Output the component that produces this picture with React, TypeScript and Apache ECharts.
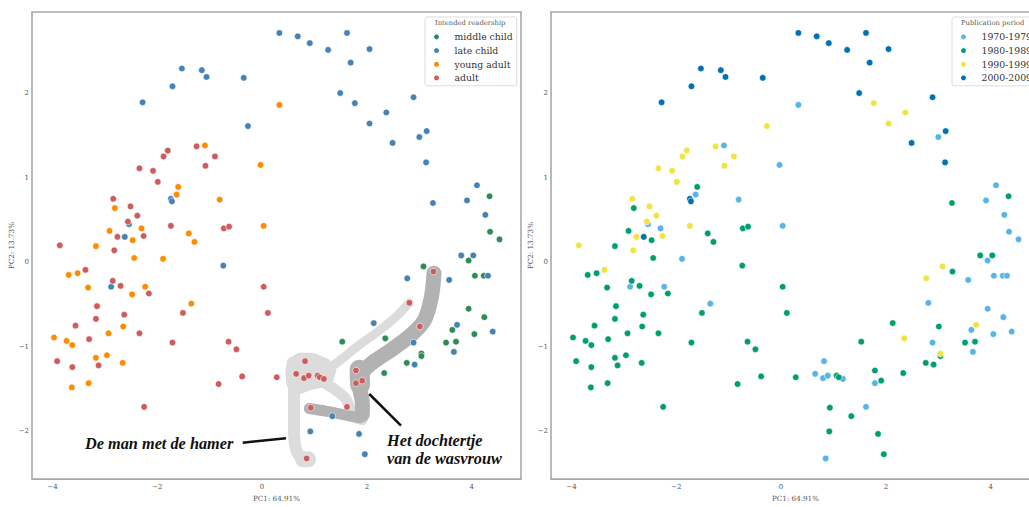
import React, { useEffect, useRef } from "react";
import * as echarts from "echarts";

// Category levels and their colours
const READERSHIP_LEVELS = ["middle child", "late child", "young adult", "adult"];
const READERSHIP_COLORS = ["#2e8b57", "#4682b4", "#ff8c00", "#cd5c5c"];
const PERIOD_LEVELS = ["1970-1979", "1980-1989", "1990-1999", "2000-2009"];
const PERIOD_COLORS = ["#56b4e9", "#009e73", "#f0e442", "#0072b2"];

// Principal component scores, one entry per book
const PC1 = [
  0.33, 0.68, 0.91, 1.26, 1.62, 2.05, 1.69, -1.53, -1.15, -1.06, -0.35, -1.71, -2.28, -0.27, 1.49, 1.77,
  2.37, 2.05, 2.89, 3.14, 3.0, 2.49, 3.13, 4.1, 3.91, 3.26, 4.26, -1.74, -1.72, -2.54, -2.62, 4.34,
  4.35, 4.53, 0.33, -1.09, -0.03, -1.6, -1.63, -0.81, -2.81, 0.03, -2.3, -2.91, -1.4, -2.47, -1.29, -3.17,
  -1.25, -1.8, -1.88, -0.9, -1.08, -2.34, -2.08, -1.99, -2.84, -2.51, -2.38, -2.56, -1.74, -0.73, -0.63, -2.26,
  -2.76, -3.86, -2.82, -2.44, -1.89, -3.69, -3.52, -3.32, -2.23, -2.48, -1.35, -3.97, -3.73, -3.62, -2.93, -2.65,
  -3.17, -2.96, -2.66, -3.63, -3.31, -3.37, -2.85, -2.7, -2.16, -3.15, -2.63, -3.17, -3.56, -2.34, -3.3, -3.91,
  -3.12, -3.62, -1.71, -1.51, 0.03, 0.11, -0.64, -0.49, -0.38, -0.83, 0.28, -2.25, -0.74, -2.88, 0.82, 0.65,
  0.8, 0.89, 1.06, 1.1, 1.18, 0.93, 1.62, 0.85, 1.79, 1.79, 1.91, 2.81, 3.01, 3.27, 3.8, 3.94,
  4.03, 3.08, 2.77, 3.57, 4.06, 4.23, 4.31, 3.94, 4.24, 4.4, 3.72, 3.63, 4.05, 3.51, 3.7, 3.66,
  2.89, 3.04, 3.04, 2.76, 2.91, 2.35, 2.13, 2.33, 1.53, 1.34, 0.92, 1.85, 1.96,
];
const PC2 = [
  2.71, 2.67, 2.59, 2.51, 2.71, 2.52, 2.36, 2.29, 2.27, 2.19, 2.18, 2.08, 1.89, 1.61, 2.0, 1.88,
  1.77, 1.64, 1.95, 1.55, 1.48, 1.41, 1.18, 0.91, 0.73, 0.7, 0.56, 0.75, 0.72, 0.45, 0.3, 0.78,
  0.36, 0.27, 1.86, 1.38, 1.15, 0.89, 0.8, 0.74, 0.64, 0.43, 0.4, 0.37, 0.34, 0.26, 0.24, 0.19,
  1.37, 1.32, 1.25, 1.25, 1.14, 1.11, 1.08, 0.95, 0.75, 0.66, 0.55, 0.48, 0.43, 0.4, 0.42, 0.31,
  0.3, 0.2, 0.14, 0.05, 0.04, -0.15, -0.13, -0.3, -0.29, -0.38, -0.49, -0.89, -0.93, -0.98, -0.84, -0.76,
  -1.13, -1.1, -1.19, -1.48, -1.43, -0.09, -0.22, -0.28, -0.37, -0.52, -0.62, -0.67, -0.75, -0.84, -0.91, -1.17,
  -1.22, -1.24, -0.95, -0.6, -0.29, -0.6, -0.94, -1.03, -1.35, -1.44, -1.36, -1.71, -0.04, -0.29, -1.17, -1.32,
  -1.37, -1.34, -1.34, -1.36, -1.38, -1.72, -1.71, -2.32, -1.28, -1.43, -1.4, -0.48, -0.76, -0.11, 0.08, 0.02,
  0.08, -0.05, -0.19, -0.21, -0.16, -0.16, -0.16, -0.55, -0.65, -0.82, -0.74, -0.8, -0.85, -0.95, -0.94, -1.06,
  -0.95, -1.08, -1.11, -1.19, -1.21, -0.9, -0.72, -1.31, -0.94, -1.82, -2.0, -2.03, -2.27,
];
// Index into READERSHIP_LEVELS
const READERSHIP = [
  1, 1, 1, 1, 1, 1, 1, 1, 1, 1, 1, 1, 1, 1, 1, 1,
  1, 1, 1, 1, 1, 1, 1, 1, 1, 1, 1, 1, 1, 1, 1, 0,
  0, 0, 2, 2, 2, 2, 2, 2, 2, 2, 2, 2, 2, 2, 2, 2,
  3, 3, 3, 3, 3, 3, 3, 3, 3, 3, 3, 3, 3, 3, 3, 3,
  3, 3, 3, 2, 2, 2, 2, 2, 2, 2, 2, 2, 2, 2, 2, 2,
  2, 2, 2, 2, 2, 3, 3, 3, 3, 3, 3, 3, 3, 3, 3, 3,
  3, 3, 3, 3, 3, 3, 3, 3, 3, 3, 3, 3, 1, 1, 3, 3,
  3, 3, 3, 3, 3, 3, 3, 3, 3, 3, 3, 3, 3, 3, 1, 0,
  1, 0, 1, 1, 0, 0, 1, 0, 0, 1, 1, 0, 0, 0, 0, 1,
  1, 0, 0, 0, 1, 0, 1, 0, 0, 1, 1, 1, 1,
];
// Index into PERIOD_LEVELS
const PERIOD = [
  3, 3, 3, 3, 3, 3, 3, 3, 3, 3, 3, 3, 3, 2, 3, 2,
  2, 2, 3, 3, 0, 3, 3, 0, 0, 1, 0, 3, 3, 0, 3, 1,
  0, 0, 0, 0, 0, 1, 0, 0, 1, 0, 0, 1, 1, 1, 1, 1,
  2, 2, 2, 2, 2, 2, 2, 2, 2, 2, 2, 2, 2, 1, 1, 2,
  2, 2, 2, 1, 0, 1, 1, 1, 0, 1, 0, 1, 1, 1, 1, 1,
  1, 1, 1, 1, 1, 2, 1, 1, 1, 1, 1, 1, 1, 1, 1, 1,
  1, 1, 1, 1, 1, 1, 1, 1, 1, 1, 1, 1, 1, 0, 0, 0,
  0, 0, 1, 1, 0, 1, 0, 0, 1, 0, 1, 0, 1, 1, 1, 0,
  1, 2, 2, 0, 0, 0, 0, 0, 0, 0, 2, 0, 0, 1, 1, 0,
  0, 2, 1, 1, 1, 2, 1, 1, 1, 1, 1, 1, 1,
];

const X_TICKS = [-4, -2, 0, 2, 4];
const Y_TICKS = [-2, -1, 0, 1, 2];
const X_RANGE = [-4.39, 4.94];
const Y_RANGE = [-2.564, 2.958];

// Highlighted book clusters, outlined in PC space
const HAMER_BLOB = [
  [0.56, -1.18], [0.73, -1.12], [0.99, -1.13], [1.22, -1.19], [1.33, -1.28], [1.28, -1.38], [1.14, -1.43],
  [0.9, -1.46], [0.74, -1.5], [0.62, -1.52], [0.55, -1.44], [0.53, -1.3],
];
const HAMER_STEM = [[0.61, -1.4], [0.61, -1.8], [0.62, -2.12], [0.7, -2.28], [0.84, -2.33]];
const HAMER_FOOT = [[0.78, -2.33], [0.88, -2.33]];
const HAMER_ARM = [[1.27, -1.26], [1.53, -1.14], [1.85, -0.98], [2.23, -0.81], [2.51, -0.67], [2.69, -0.56], [2.81, -0.48]];
const HAMER_HOOK = [[1.15, -1.41], [1.4, -1.51], [1.59, -1.61], [1.67, -1.72], [1.75, -1.82], [1.91, -1.86]];
const WASVROUW_SPINE = [[3.28, -0.13], [3.23, -0.41], [3.1, -0.68], [2.86, -0.85], [2.48, -1.03], [2.1, -1.19], [1.9, -1.32], [1.86, -1.47], [1.91, -1.64], [1.91, -1.8]];
const WASVROUW_KNOT = [[1.86, -1.27], [1.87, -1.45]];
const WASVROUW_FOOT = [[0.9, -1.73], [1.21, -1.76], [1.53, -1.8], [1.86, -1.84]];

const LIGHT = "#dcdcdc";
const DARK = "#b2b2b2";
const ANNOTATION_SHAPES = [
  { points: HAMER_BLOB, fill: LIGHT, width: 9 },
  { points: HAMER_STEM, stroke: LIGHT, width: 12 },
  { points: HAMER_FOOT, stroke: LIGHT, width: 16 },
  { points: HAMER_ARM, stroke: LIGHT, width: 9 },
  { points: HAMER_HOOK, stroke: LIGHT, width: 11 },
  { points: WASVROUW_SPINE, stroke: DARK, width: 15 },
  { points: WASVROUW_KNOT, stroke: DARK, width: 20 },
  { points: WASVROUW_FOOT, stroke: DARK, width: 11 },
];

const SERIF = "DejaVu Serif";
const minus = (v: number) => (v < 0 ? "\u2212" + Math.abs(v) : String(v));

function axes(gridIndex: number) {
  const labelStyle = { fontFamily: SERIF, fontSize: 7, color: "#555" };
  const nameStyle = { fontFamily: SERIF, fontSize: 7.2, color: "#555" };
  return {
    x: {
      type: "value", gridIndex, min: X_RANGE[0], max: X_RANGE[1],
      splitLine: { show: false }, axisLine: { show: false }, axisTick: { show: false },
      axisLabel: { ...labelStyle, margin: 4, customValues: X_TICKS, formatter: minus },
      name: "PC1: 64.91%", nameLocation: "middle", nameGap: 10, nameTextStyle: nameStyle,
    },
    y: {
      type: "value", gridIndex, min: Y_RANGE[0], max: Y_RANGE[1],
      splitLine: { show: false }, axisLine: { show: false }, axisTick: { show: false },
      axisLabel: { ...labelStyle, margin: 3, customValues: Y_TICKS, formatter: minus },
      name: "PC2: 13.73%", nameLocation: "middle", nameGap: 14, nameRotate: 90, nameTextStyle: nameStyle,
    },
  };
}

function scatterSeries(levels: string[], codes: number[], colors: string[], gridIndex: number) {
  return levels.map((name, k) => ({
    type: "scatter",
    name,
    xAxisIndex: gridIndex,
    yAxisIndex: gridIndex,
    data: PC1.map((x, i) => [x, PC2[i], codes[i]]).filter((d) => d[2] === k).map((d) => [d[0], d[1]]),
    symbolSize: 6.6,
    itemStyle: { color: colors[k], borderColor: "#fff", borderWidth: 0.6, opacity: 1 },
    z: 3,
  }));
}

function legendBox(data: string[], left: number) {
  return {
    data,
    orient: "vertical",
    left,
    top: 17,
    padding: [13, 4, 1, 7],
    itemWidth: 26,
    itemHeight: 7,
    itemGap: 0,
    icon: "circle",
    selectedMode: false,
    textStyle: { fontFamily: SERIF, fontSize: 9.3, color: "#333", lineHeight: 13.7 },
    backgroundColor: "rgba(255,255,255,0.85)",
    borderColor: "#dcdcdc",
    borderWidth: 1,
    borderRadius: 2,
  };
}

export default function App() {
  const ref = useRef<HTMLDivElement>(null);

  useEffect(() => {
    if (!ref.current) return;
    const chart = echarts.init(ref.current, null, { renderer: "svg" });
    const a0 = axes(0);
    const a1 = axes(1);
    const annotationFont = { fontFamily: "Liberation Serif", fontStyle: "italic", fontWeight: "bold", fontSize: 16.3, fill: "#111" };

    chart.setOption({
      animation: false,
      backgroundColor: "#fff",
      grid: [
        { left: 32, top: 12, width: 489, height: 476, show: true, borderColor: "#a8a8a8", borderWidth: 1.6, backgroundColor: "#fff" },
        { left: 551, top: 12, width: 489, height: 476, show: true, borderColor: "#a8a8a8", borderWidth: 1.6, backgroundColor: "#fff" },
      ],
      xAxis: [a0.x, a1.x],
      yAxis: [a0.y, a1.y],
      legend: [legendBox(READERSHIP_LEVELS, 425), legendBox(PERIOD_LEVELS, 952)],
      series: [
        {
          type: "custom",
          xAxisIndex: 0,
          yAxisIndex: 0,
          silent: true,
          clip: false,
          z: 1,
          data: ANNOTATION_SHAPES.map((s) => s.points[0]),
          renderItem: (params: any, api: any) => {
            const s: any = ANNOTATION_SHAPES[params.dataIndex];
            const pts = s.points.map((p: number[]) => api.coord(p));
            if (s.fill) {
              return {
                type: "polygon",
                shape: { points: pts },
                style: { fill: s.fill, stroke: s.fill, lineWidth: s.width, lineJoin: "round" },
              };
            }
            return {
              type: "polyline",
              shape: { points: pts, smooth: 0.35 },
              style: { stroke: s.stroke, lineWidth: s.width, lineCap: "round", lineJoin: "round", fill: null },
            };
          },
        },
        ...scatterSeries(READERSHIP_LEVELS, READERSHIP, READERSHIP_COLORS, 0),
        ...scatterSeries(PERIOD_LEVELS, PERIOD, PERIOD_COLORS, 1),
      ],
      graphic: [
        { type: "text", x: 435, y: 23, z: 100, style: { text: "Intended readership", fontFamily: SERIF, fontSize: 6.8, fill: "#555", verticalAlign: "middle" } },
        { type: "text", x: 961, y: 23, z: 100, style: { text: "Publication period", fontFamily: SERIF, fontSize: 6.8, fill: "#555", verticalAlign: "middle" } },
        { type: "text", x: 85, y: 443, z: 100, style: { text: "De man met de hamer", ...annotationFont, verticalAlign: "middle" } },
        { type: "text", x: 387, y: 431, z: 100, style: { text: "Het dochtertje\nvan de wasvrouw", ...annotationFont, lineHeight: 18.5, verticalAlign: "top" } },
        { type: "line", z: 100, shape: { x1: 242.7, y1: 442.7, x2: 286, y2: 438.3 }, style: { stroke: "#111", lineWidth: 2.5 } },
        { type: "line", z: 100, shape: { x1: 369.3, y1: 394, x2: 401, y2: 425.7 }, style: { stroke: "#111", lineWidth: 2.5 } },
      ],
    });
    return () => chart.dispose();
  }, []);

  return (
    <div style={{ position: "fixed", left: 0, top: 0, width: 1029, height: 507, overflow: "hidden", background: "#fff" }}>
      <div ref={ref} style={{ width: 1050, height: 507 }} />
    </div>
  );
}
